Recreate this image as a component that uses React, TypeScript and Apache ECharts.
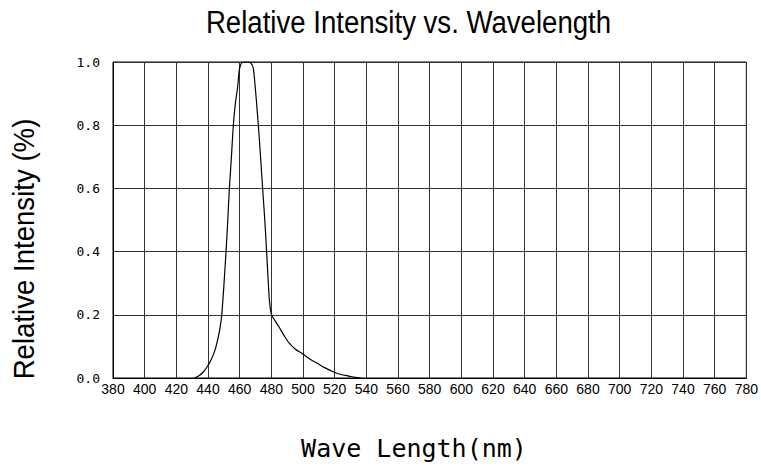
import React, { useEffect, useRef } from "react";
import * as echarts from "echarts";

const waveLength = [
  431.5, 434, 437, 439.8, 442, 444, 445.1, 446.5, 447.7, 448.7, 450, 451.4, 452.5, 453.5, 454.8, 456,
  457.3, 458.7, 459.8, 461, 462.5, 465, 467, 468.6, 469.9, 471, 471.8, 473.2, 474.5, 476, 477, 478,
  478.7, 479.5, 480.4, 482.5, 484.8, 488, 491.3, 495, 499.3, 505, 509.2, 514, 519, 524, 529, 533, 536.7,
];
const intensity = [
  0, 0.006, 0.019, 0.038, 0.058, 0.082, 0.1, 0.13, 0.162, 0.2, 0.29, 0.4, 0.5, 0.6, 0.7, 0.8,
  0.87, 0.92, 0.975, 0.995, 1.0, 1.0, 0.997, 0.98, 0.917, 0.85, 0.8, 0.7, 0.6, 0.49, 0.4, 0.31,
  0.25, 0.215, 0.197, 0.18, 0.162, 0.135, 0.11, 0.092, 0.078, 0.058, 0.046, 0.032, 0.02, 0.011, 0.006, 0.002, 0,
];

const xMin = 380;
const xMax = 780;
const xStep = 20;
const yMin = 0;
const yMax = 1;
const yStep = 0.2;

const titleText = "Relative Intensity vs. Wavelength";
const yTitle = "Relative Intensity (%)";
const xTitle = "Wave Length(nm)";

const sans = "'Liberation Sans', Arial, sans-serif";
const mono = "'DejaVu Sans Mono', monospace";

export default function App() {
  const ref = useRef<HTMLDivElement>(null);
  useEffect(() => {
    document.body.style.margin = "0";
    if (!ref.current) return;
    const chart = echarts.init(ref.current, null, { renderer: "svg" });
    const data = waveLength.map((w, i) => [w, intensity[i]]);
    chart.setOption({
      animation: false,
      backgroundColor: "#fff",
      grid: {
        left: 113,
        right: 13,
        top: 62,
        bottom: 90,
        show: true,
        borderColor: "#000",
        borderWidth: 1,
        backgroundColor: "transparent",
      },
      graphic: [
        {
          type: "text",
          x: 408.5,
          y: 22,
          scaleX: 0.89,
          style: {
            text: titleText,
            fontFamily: sans,
            fontSize: 31,
            fill: "#000",
            textAlign: "center",
            textVerticalAlign: "middle",
          },
        },
        {
          type: "text",
          x: 24,
          y: 249,
          rotation: Math.PI / 2,
          scaleX: 0.92,
          style: {
            text: yTitle,
            fontFamily: sans,
            fontSize: 30,
            fill: "#000",
            textAlign: "center",
            textVerticalAlign: "middle",
          },
        },
        {
          type: "text",
          x: 414,
          y: 448,
          style: {
            text: xTitle,
            fontFamily: mono,
            fontSize: 25,
            fill: "#000",
            textAlign: "center",
            textVerticalAlign: "middle",
          },
        },
      ],
      xAxis: {
        type: "value",
        min: xMin,
        max: xMax,
        interval: xStep,
        axisLine: { show: true, lineStyle: { color: "#000", width: 1 } },
        axisTick: { show: false },
        axisLabel: {
          color: "#000",
          fontSize: 14,
          fontFamily: sans,
          margin: 4,
        },
        splitLine: { show: true, lineStyle: { color: "#333", width: 1 } },
      },
      yAxis: {
        type: "value",
        min: yMin,
        max: yMax,
        interval: yStep,
        axisLine: { show: true, lineStyle: { color: "#000", width: 1 } },
        axisTick: { show: false },
        axisLabel: {
          color: "#000",
          fontSize: 13,
          fontFamily: mono,
          margin: 13,
          formatter: (v: number) => v.toFixed(1),
        },
        splitLine: { show: true, lineStyle: { color: "#333", width: 1 } },
      },
      series: [
        {
          type: "line",
          data,
          showSymbol: false,
          smooth: 0.25,
          lineStyle: { color: "#000", width: 1.2 },
          silent: true,
        },
      ],
    });
    return () => chart.dispose();
  }, []);
  return <div ref={ref} style={{ width: 761, height: 468 }} />;
}
